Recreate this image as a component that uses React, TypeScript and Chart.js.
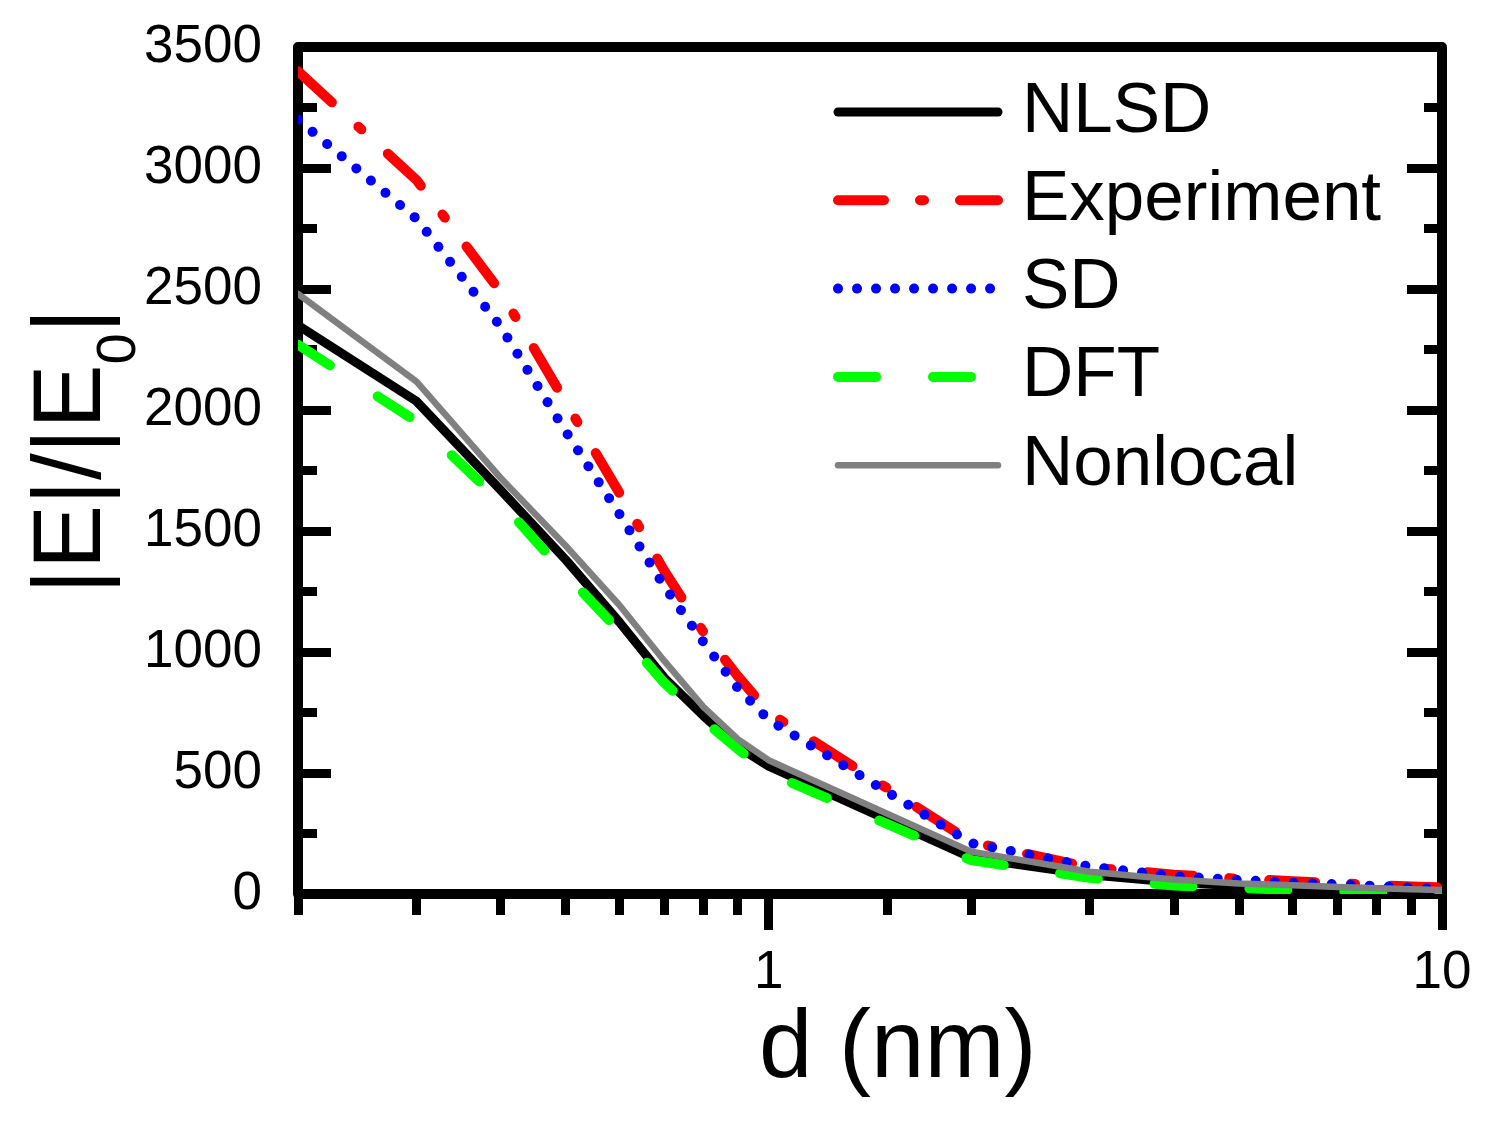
import React, { useEffect, useRef } from 'react';
import { Chart, registerables } from 'chart.js';

Chart.register(...registerables);

// ---- data ----
const D_NM = [0.2, 0.3, 0.4, 0.5, 0.6, 0.7, 0.8, 0.9, 1, 2, 3, 4, 5, 6, 7, 8, 9, 10];
const NLSD = [2350, 2036, 1669, 1380, 1124, 893, 736, 609, 528, 150, 79, 48, 34, 28, 22, 18, 15, 12];
const EXPERIMENT = [3400, 2950, 2488, 2030, 1658, 1335, 1083, 900, 750, 215, 110, 80, 63, 53, 45, 37, 31, 27];
const SD = [3200, 2790, 2344, 1910, 1571, 1271, 1041, 851, 720, 210, 113, 74, 58, 47, 40, 33, 26, 20];
const DFT = [2270, 1952, 1620, 1320, 1087, 872, 719, 599, 500, 140, 67, 35, 25, 17, 10, 8, 6, 6];
const NONLOCAL = [2480, 2117, 1719, 1438, 1194, 963, 773, 640, 553, 175, 92, 60, 43, 36, 29, 24, 20, 17];

const SERIES_LABELS = ['NLSD', 'Experiment', 'SD', 'DFT', 'Nonlocal'];
const X_MIN = 0.2;
const X_MAX = 10;
const X_LABELED_TICKS = [1, 10];
const Y_MIN = 0;
const Y_MAX = 3500;
const Y_STEP = 500;
const Y_MINOR_STEP = 250;
const X_TITLE = 'd (nm)';
const Y_TITLE_MAIN = '|E|/|E';
const Y_TITLE_SUB = '0';
const Y_TITLE_END = '|';

const FONT = 'Liberation Sans';

const toPoints = (ys: number[]) => D_NM.map((x, i) => ({ x, y: ys[i] }));

const framePlugin = {
  id: 'frame',
  beforeDatasetsDraw(chart: any) {
    const { ctx, chartArea: a } = chart;
    ctx.save();
    ctx.strokeStyle = '#000';
    ctx.lineWidth = 10;
    ctx.lineJoin = 'round';
    ctx.strokeRect(a.left, a.top, a.right - a.left, a.bottom - a.top);
    ctx.restore();
  },
};

const legendPlugin = {
  id: 'insideLegend',
  afterDatasetsDraw(chart: any) {
    const { ctx, chartArea: a } = chart;
    const x0 = a.left + 540;
    const x1 = a.left + 700;
    const tx = a.left + 724;
    const y0 = a.top + 65;
    const row = 88.3;
    chart.data.datasets.forEach((ds: any, i: number) => {
      const y = y0 + i * row;
      ctx.save();
      ctx.strokeStyle = ds.borderColor;
      ctx.lineWidth = ds.borderWidth;
      ctx.lineCap = ds.borderCapStyle || 'butt';
      ctx.setLineDash(ds.borderDash || []);
      ctx.beginPath();
      ctx.moveTo(x0, y);
      ctx.lineTo(x1, y);
      ctx.stroke();
      ctx.setLineDash([]);
      ctx.fillStyle = '#000';
      ctx.font = `71px "${FONT}"`;
      ctx.textAlign = 'left';
      ctx.textBaseline = 'middle';
      ctx.fillText(ds.label, tx, y);
      ctx.restore();
    });
  },
};

const titlesPlugin = {
  id: 'axisTitles',
  afterDraw(chart: any) {
    const { ctx, chartArea: a } = chart;
    ctx.save();
    ctx.fillStyle = '#000';
    ctx.textBaseline = 'alphabetic';
    // x title
    ctx.font = `96px "${FONT}"`;
    ctx.textAlign = 'left';
    ctx.fillText(X_TITLE, a.left + 461, a.bottom + 183);
    // y title, rotated, with subscript
    ctx.translate(a.left - 198, a.top + 547);
    ctx.rotate(-Math.PI / 2);
    ctx.font = `96px "${FONT}"`;
    ctx.fillText(Y_TITLE_MAIN, 0, 0);
    const w1 = ctx.measureText(Y_TITLE_MAIN).width;
    ctx.font = `56px "${FONT}"`;
    ctx.fillText(Y_TITLE_SUB, w1, 35);
    const w2 = ctx.measureText(Y_TITLE_SUB).width;
    ctx.font = `96px "${FONT}"`;
    ctx.fillText(Y_TITLE_END, w1 + w2, 0);
    ctx.restore();
  },
};

const tickFont = { family: FONT, size: 53 };

const fixSize = (dim: 'width' | 'height', value: number) => (s: any) => {
  s[dim] = value;
  s.paddingTop = 0;
  s.paddingBottom = 0;
  s.paddingLeft = 0;
  s.paddingRight = 0;
};

export default function App() {
  const ref = useRef<HTMLCanvasElement | null>(null);

  useEffect(() => {
    if (!ref.current) return;
    const common = { fill: false, pointRadius: 0, tension: 0, borderCapStyle: 'round', borderJoinStyle: 'round' };
    const datasets: any[] = [
      { ...common, label: SERIES_LABELS[0], data: toPoints(NLSD), borderColor: '#000000', borderWidth: 9, borderDash: [], order: 5 },
      { ...common, label: SERIES_LABELS[1], data: toPoints(EXPERIMENT), borderColor: '#ff0000', borderWidth: 10, borderDash: [46, 36, 4, 36], order: 4 },
      { ...common, label: SERIES_LABELS[2], data: toPoints(SD), borderColor: '#0000ff', borderWidth: 10, borderDash: [0.01, 19], order: 3 },
      { ...common, label: SERIES_LABELS[3], data: toPoints(DFT), borderColor: '#00ff00', borderWidth: 10, borderDash: [38, 57], order: 2 },
      { ...common, label: SERIES_LABELS[4], data: toPoints(NONLOCAL), borderColor: '#808080', borderWidth: 6.5, borderDash: [], order: 1 },
    ];

    const tickGrid = (len: number) => ({
      drawOnChartArea: false,
      drawTicks: true,
      tickLength: len,
      tickWidth: 9,
      tickColor: '#000',
      color: '#000',
    });

    const chart = new Chart(ref.current, {
      type: 'line',
      data: { datasets },
      options: {
        animation: false,
        responsive: false,
        devicePixelRatio: 1,
        events: [],
        layout: { padding: { top: 47, left: 0, right: 0, bottom: 0 } },
        plugins: {
          legend: { display: false },
          tooltip: { enabled: false },
          title: { display: false },
        },
        scales: {
          x: {
            type: 'logarithmic',
            position: 'bottom',
            weight: 1,
            min: X_MIN,
            max: X_MAX,
            afterBuildTicks: (s: any) => {
              s.ticks = s.ticks.filter((t: any) => X_LABELED_TICKS.some((v) => Math.abs(t.value - v) < 1e-9));
            },
            afterFit: fixSize('height', 230),
            grid: tickGrid(36),
            border: { display: false },
            ticks: {
              callback: (v: any) => String(v),
              font: tickFont,
              color: '#000',
              padding: 12,
              autoSkip: false,
              maxRotation: 0,
              minRotation: 0,
            },
          },
          xMinor: {
            type: 'logarithmic',
            position: 'bottom',
            weight: 0,
            min: X_MIN,
            max: X_MAX,
            afterFit: fixSize('height', 0),
            grid: tickGrid(21),
            border: { display: false },
            ticks: { display: false, autoSkip: false },
          },
          y: {
            type: 'linear',
            position: 'left',
            weight: 1,
            min: Y_MIN,
            max: Y_MAX,
            afterFit: fixSize('width', 298),
            grid: tickGrid(-33),
            border: { display: false },
            ticks: {
              stepSize: Y_STEP,
              maxTicksLimit: 100,
              callback: (v: any) => String(v),
              font: tickFont,
              color: '#000',
              padding: 69,
              autoSkip: false,
            },
          },
          yMinor: {
            type: 'linear',
            position: 'left',
            weight: 0,
            min: Y_MIN,
            max: Y_MAX,
            afterFit: fixSize('width', 0),
            grid: tickGrid(-19),
            border: { display: false },
            ticks: { display: false, stepSize: Y_MINOR_STEP, maxTicksLimit: 100, autoSkip: false, font: { size: 8 } },
          },
          yRight: {
            type: 'linear',
            position: 'right',
            weight: 1,
            min: Y_MIN,
            max: Y_MAX,
            afterFit: fixSize('width', 46),
            grid: tickGrid(-35),
            border: { display: false },
            ticks: { display: false, stepSize: Y_STEP, maxTicksLimit: 100, autoSkip: false, font: { size: 8 } },
          },
          yRightMinor: {
            type: 'linear',
            position: 'right',
            weight: 0,
            min: Y_MIN,
            max: Y_MAX,
            afterFit: fixSize('width', 0),
            grid: tickGrid(-18),
            border: { display: false },
            ticks: { display: false, stepSize: Y_MINOR_STEP, maxTicksLimit: 100, autoSkip: false, font: { size: 8 } },
          },
        },
      } as any,
      plugins: [framePlugin, legendPlugin, titlesPlugin],
    });

    return () => chart.destroy();
  }, []);

  return (
    <div style={{ position: 'absolute', left: 0, top: 0, width: 1488, height: 1124, background: '#fff' }}>
      <canvas ref={ref} width={1488} height={1124} style={{ width: 1488, height: 1124, display: 'block' }} />
    </div>
  );
}
